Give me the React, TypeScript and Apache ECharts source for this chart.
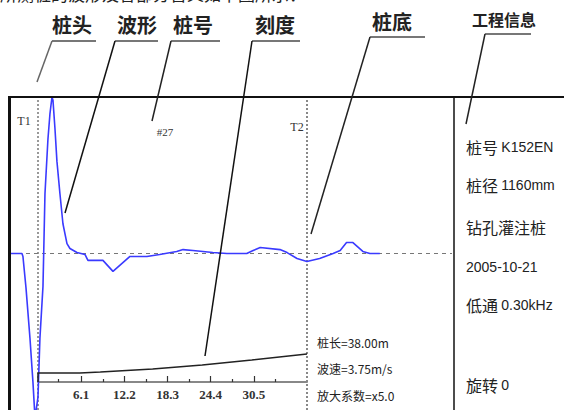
import React, { useEffect, useRef } from "react";
import * as echarts from "echarts";

// ---- data ----
const waveDepth = [-3.95, -2.26, -2.12, -1.69, -1.13, -0.71, -0.42, 0, 0.28, 0.71, 0.99, 1.41, 1.69, 1.98, 2.12, 2.4, 2.68, 3.11, 3.53, 4.1, 4.52, 5.51, 6.64, 7.06, 9.18, 10.6, 13.0, 15.4, 17.2, 19.6, 20.5, 21.9, 24.7, 26.7, 29.5, 30.4, 31.4, 34.2, 35.2, 36.6, 38.0, 39.8, 41.7, 42.7, 43.6, 44.5, 45.9, 46.9, 48.3];
const waveAmp = [0, 0, -1.9, -22, -54, -82, -105, -92, -54, -21, 38, 73, 89, 100, 98, 80, 59, 38, 19, 6.3, 3.2, 0.6, -0.6, -4.4, -4.4, -11.4, -1.9, -1.9, -0.6, 1.3, 2.5, 1.9, 0.6, 0, 0, 1.9, 3.8, 2.5, 0.6, -3.2, -5.1, -3.2, 0, 1.9, 7, 7, 1.3, 0, 0];
const gainDepth = [0, 0, 5.9, 8.8, 16.2, 23.2, 30.2, 38];
const gainValue = [0, 9, 9, 10, 13, 17, 22, 28];
const rulerMajor = [6.1, 12.2, 18.3, 24.4, 30.5];
const rulerMinor = [2.8, 9.15, 15.25, 21.35, 27.45, 33.55];
const pileTop = 0; // T1
const pileBottom = 38; // T2 (桩长)
const calloutLabels = ["桩头", "波形", "桩号", "刻度", "桩底"];
const infoTitle = "工程信息";
const infoLines = ["桩号 K152EN", "桩径 1160mm", "钻孔灌注桩", "2005-10-21", "低通 0.30kHz", "旋转 0"];
const paramLines = ["桩长=38.00m", "波速=3.75m/s", "放大系数=x5.0"];
const pileNo = "#27";
const topSentence = "所测桩的波形及各部分含义如下图所示：";

const CJK = '"Noto Sans CJK SC", "Noto Sans", sans-serif';
const LAT = '"Liberation Sans", Arial, sans-serif';

function richInfo(t: string) {
  const sp = t.indexOf(" ");
  const isCjk = (s: string) => /[\u4e00-\u9fff]/.test(s);
  if (sp < 0) return isCjk(t) ? `{c|${t}}` : `{n|${t}}`;
  return `{c|${t.slice(0, sp)}} {n|${t.slice(sp + 1)}}`;
}

export default function App() {
  const ref = useRef<HTMLDivElement>(null);
  useEffect(() => {
    const chart = echarts.init(ref.current!, null, { renderer: "svg" });

    const calloutPos = [
      { cx: 72, cy: 24, hx1: 52, hx2: 96, hy: 41, ex: 37, ey: 82, c: "#666" },
      { cx: 137, cy: 24, hx1: 115, hx2: 158, hy: 41, ex: 65, ey: 213, c: "#111" },
      { cx: 193, cy: 24, hx1: 171, hx2: 220, hy: 41, ex: 152, ey: 121, c: "#222" },
      { cx: 275, cy: 24, hx1: 252, hx2: 300, hy: 41, ex: 205, ey: 356, c: "#111" },
      { cx: 392, cy: 21, hx1: 370, hx2: 425, hy: 37, ex: 311, ey: 234, c: "#222" },
    ];
    const infoY = [147, 185, 227, 267, 305, 385];
    const paramY = [342, 368, 395];

    const graphic: any[] = [];
    graphic.push({
      type: "text", x: 0, y: 2, z: 50,
      style: { text: topSentence, font: `17px ${CJK}`, fill: "#222", textAlign: "left", textVerticalAlign: "bottom" },
    });
    calloutLabels.forEach((t, i) => {
      const p = calloutPos[i];
      graphic.push({
        type: "text", x: p.cx, y: p.cy, z: 50,
        style: { text: t, font: `bold 20px ${CJK}`, fill: "#222", textAlign: "center", textVerticalAlign: "middle" },
      });
      graphic.push({
        type: "line", z: 60, shape: { x1: p.hx1, y1: p.hy, x2: p.hx2, y2: p.hy },
        style: { stroke: "#777", lineWidth: 2 },
      });
      graphic.push({
        type: "line", z: 60, shape: { x1: p.hx1, y1: p.hy, x2: p.ex, y2: p.ey },
        style: { stroke: p.c, lineWidth: 1.5 },
      });
    });
    graphic.push({
      type: "text", x: 504, y: 19, z: 50,
      style: { text: infoTitle, font: `bold 16px ${CJK}`, fill: "#222", textAlign: "center", textVerticalAlign: "middle" },
    });
    graphic.push({ type: "line", z: 60, shape: { x1: 485, y1: 34, x2: 531, y2: 34 }, style: { stroke: "#777", lineWidth: 2 } });
    graphic.push({ type: "line", z: 60, shape: { x1: 485, y1: 34, x2: 466, y2: 124 }, style: { stroke: "#222", lineWidth: 1.5 } });

    // frame
    graphic.push({ type: "line", z: 40, shape: { x1: 8, y1: 97, x2: 564, y2: 97 }, style: { stroke: "#111", lineWidth: 2 } });
    graphic.push({ type: "line", z: 40, shape: { x1: 9.5, y1: 96, x2: 9.5, y2: 410 }, style: { stroke: "#111", lineWidth: 3 } });
    graphic.push({ type: "line", z: 40, shape: { x1: 454, y1: 97, x2: 454, y2: 410 }, style: { stroke: "#111", lineWidth: 1.5 } });

    // small labels in the wave panel
    graphic.push({ type: "text", x: 24, y: 121, z: 50, style: { text: "T1", font: '12px "Liberation Serif", serif', fill: "#333", textAlign: "center", textVerticalAlign: "middle" } });
    graphic.push({ type: "text", x: 297, y: 127, z: 50, style: { text: "T2", font: '12px "Liberation Serif", serif', fill: "#333", textAlign: "center", textVerticalAlign: "middle" } });
    graphic.push({ type: "text", x: 165, y: 132, z: 50, style: { text: pileNo, font: '11px "Liberation Serif", serif', fill: "#333", textAlign: "center", textVerticalAlign: "middle" } });

    infoLines.forEach((t, i) => {
      graphic.push({
        type: "text", x: 466, y: infoY[i], z: 50,
        style: {
          text: richInfo(t), fill: "#222", textAlign: "left", textVerticalAlign: "middle",
          rich: {
            c: { font: `16px ${CJK}`, fill: "#222" },
            n: { font: `14px ${LAT}`, fill: "#222" },
          },
        },
      });
    });
    paramLines.forEach((t, i) => {
      graphic.push({
        type: "text", x: 317, y: paramY[i], z: 50,
        style: { text: t, font: `12px ${CJK}`, fill: "#222", textAlign: "left", textVerticalAlign: "middle" },
      });
    });

    const option: any = {
      animation: false,
      backgroundColor: "#fff",
      grid: [
        { left: 10, width: 442, top: 97, height: 316 },
        { left: 38, width: 269, top: 352, height: 30 },
      ],
      xAxis: [
        { gridIndex: 0, type: "value", min: -3.95, max: 58.5, show: false },
        {
          gridIndex: 1, type: "value", min: 0, max: 38, position: "bottom",
          axisLine: { show: true, lineStyle: { color: "#888", width: 2 } },
          axisTick: { show: true, inside: true, length: 6, customValues: rulerMajor, lineStyle: { color: "#333", width: 1.2 } },
          axisLabel: {
            show: true, customValues: rulerMajor, margin: 6,
            fontFamily: '"Liberation Serif", serif', fontSize: 13, fontWeight: "bold", color: "#333",
            formatter: (v: number) => v.toFixed(1),
          },
          splitLine: { show: false },
        },
        {
          gridIndex: 1, type: "value", min: 0, max: 38, position: "bottom",
          axisLine: { show: false },
          axisTick: { show: true, inside: true, length: 3, customValues: rulerMinor, lineStyle: { color: "#333", width: 1.2 } },
          axisLabel: { show: false },
          splitLine: { show: false },
        },
      ],
      yAxis: [
        { gridIndex: 0, type: "value", min: -100, max: 100, show: false },
        { gridIndex: 1, type: "value", min: 0, max: 30, show: false },
      ],
      graphic,
      series: [
        {
          type: "line", xAxisIndex: 0, yAxisIndex: 0,
          data: waveDepth.map((d, i) => [d, waveAmp[i]]),
          showSymbol: false, symbol: "none",
          lineStyle: { color: "#3a3aff", width: 1.6 },
          z: 5,
          markLine: {
            silent: true, symbol: ["none", "none"], label: { show: false },
            data: [
              { xAxis: pileTop, lineStyle: { color: "#999", type: "dotted", width: 2 } },
              { xAxis: pileBottom, lineStyle: { color: "#888", type: "dotted", width: 2 } },
              { yAxis: 0, lineStyle: { color: "#777", type: [4, 4], width: 1.2 } },
            ],
          },
        },
        {
          type: "line", xAxisIndex: 1, yAxisIndex: 1,
          data: gainDepth.map((d, i) => [d, gainValue[i]]),
          showSymbol: false, symbol: "none",
          lineStyle: { color: "#222", width: 1.5 },
          z: 6,
        },
      ],
    };
    chart.setOption(option);
    return () => chart.dispose();
  }, []);
  return (
    <div
      ref={ref}
      style={{ position: "fixed", left: 0, top: 0, width: 564, height: 410, background: "#fff" }}
    />
  );
}
